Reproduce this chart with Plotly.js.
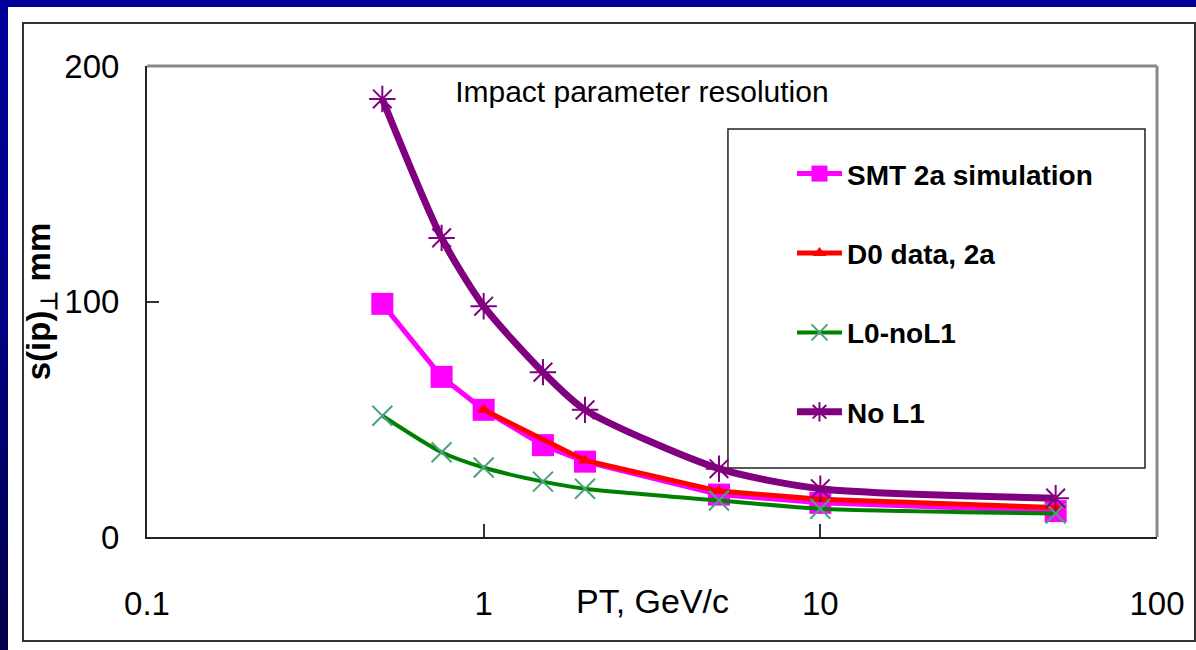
<!DOCTYPE html>
<html>
<head>
<meta charset="utf-8">
<script src="https://cdn.plot.ly/plotly-3.0.1.min.js"></script>
<style>
  html, body { margin:0; padding:0; width:1196px; height:650px; overflow:hidden; }
  body { background: linear-gradient(to bottom, #000099 0%, #000088 45%, #00004a 100%); position:relative; }
  #panel { position:absolute; left:8px; top:7px; width:1188px; height:643px; background:#ffffff; }
  #chart { position:absolute; left:0; top:0; width:1188px; height:643px; }
  #frame { position:absolute; left:14px; top:15px; width:1170px; height:616px; border:2px solid #333; pointer-events:none; }
</style>
</head>
<body>
<div id="panel">
  <div id="chart"></div>
  <div id="frame"></div>
</div>
<script>
// Transverse momentum values (GeV/c)
const ptAll = [0.5, 0.75, 1, 1.5, 2, 5, 10, 50];
const ptData = [1, 2, 5, 10, 50];

// Impact parameter resolution values
const smtSim   = [99, 68, 54, 39, 32, 18, 14.5, 11];
const d0Data   = [54, 32.5, 19.5, 16, 12.5];
const l0NoL1   = [51.5, 36, 29.5, 23.5, 20.5, 15.5, 12, 10];
const noL1     = [186, 127, 98, 70, 54, 29, 20.5, 16.5];

const seriesNames = ['SMT 2a simulation', 'D0 data, 2a', 'L0-noL1', 'No L1'];
const xTickVals = [0.1, 1, 10, 100];
const xTickText = ['0.1', '1', '10', '100'];
const yTickVals = [0, 100, 200];
const yTickText = ['0', '100', '200'];

const FONT = 'Liberation Sans, Arial, sans-serif';

const traces = [
  {
    x: ptAll, y: smtSim, name: seriesNames[0], type: 'scatter', mode: 'lines+markers',
    legendgroup: 'g1',
    line: { color: '#ff00ff', width: 5 },
    marker: { symbol: 'square', size: 22, color: '#ff00ff' }
  },
  {
    x: ptData, y: d0Data, name: seriesNames[1], type: 'scatter', mode: 'lines+markers',
    legendgroup: 'g2',
    line: { color: '#ff0000', width: 5 },
    marker: { symbol: 'triangle-up', size: 12, color: '#ff0000' }
  },
  {
    x: ptAll, y: l0NoL1, name: seriesNames[2], type: 'scatter', mode: 'lines+markers',
    legendgroup: 'g3',
    line: { color: '#008000', width: 4, shape: 'spline', smoothing: 0.7 },
    marker: { symbol: 'x-thin-open', size: 20, color: '#4aa37a', line: { color: '#4aa37a', width: 2 } }
  },
  {
    x: ptAll, y: noL1, name: seriesNames[3], type: 'scatter', mode: 'lines+markers',
    legendgroup: 'g4',
    line: { color: '#800080', width: 7, shape: 'spline', smoothing: 0.7 },
    marker: { symbol: 'asterisk-open', size: 22, color: '#800080', line: { color: '#800080', width: 2 } }
  }
];

const layout = {
  width: 1188, height: 643,
  margin: { l: 139, r: 39, t: 59, b: 113 },
  paper_bgcolor: '#ffffff', plot_bgcolor: '#ffffff',
  font: { family: FONT, color: '#000000' },
  showlegend: true,
  title: {
    text: 'Impact parameter resolution',
    font: { family: FONT, size: 30, color: '#000000' },
    xref: 'paper', x: 0.49, xanchor: 'center',
    yref: 'paper', y: 0.945, yanchor: 'middle'
  },
  xaxis: {
    type: 'log', range: [-1, 2],
    tickvals: xTickVals, ticktext: xTickText,
    ticks: 'inside', ticklen: 13, tickwidth: 2, tickcolor: '#333',
    showgrid: false, zeroline: false,
    showline: true, linecolor: '#222', linewidth: 2,
    tickfont: { family: FONT, size: 33, color: '#000' },
    ticklabelstandoff: 36,
    automargin: false
  },
  yaxis: {
    range: [0, 200],
    tickvals: yTickVals, ticktext: yTickText,
    ticks: 'inside', ticklen: 12, tickwidth: 2, tickcolor: '#333',
    showgrid: false, zeroline: false,
    showline: true, linecolor: '#222', linewidth: 2,
    tickfont: { family: FONT, size: 33, color: '#000' },
    ticklabelstandoff: 19,
    title: { text: 's(ip)<sub>⊥</sub> mm', font: { family: FONT, size: 33, weight: 'bold', color: '#000' }, standoff: 4 },
    automargin: false
  },
  legend: {
    x: 0.6386, y: 0.824, xanchor: 'left', yanchor: 'top',
    bgcolor: 'rgba(0,0,0,0)', borderwidth: 0,
    font: { family: FONT, size: 28, weight: 'bold', color: '#000' },
    itemwidth: 45,
    tracegroupgap: 40
  },
  annotations: [
    {
      text: 'PT, GeV/c', xref: 'paper', yref: 'paper', x: 0.5, y: -0.136,
      xanchor: 'center', yanchor: 'middle', showarrow: false,
      font: { family: FONT, size: 34, color: '#000' }
    }
  ],
  shapes: [
    { type: 'line', xref: 'paper', yref: 'paper', x0: 0, x1: 1, y0: 1, y1: 1, line: { color: '#888', width: 3 } },
    { type: 'line', xref: 'paper', yref: 'paper', x0: 1, x1: 1, y0: 0, y1: 1, line: { color: '#888', width: 3 } },
    { type: 'rect', xref: 'paper', yref: 'paper', x0: 0.5752, x1: 0.9881, y0: 0.1465, y1: 0.8662,
      line: { color: '#222', width: 1.5 }, fillcolor: 'rgba(0,0,0,0)', layer: 'below' }
  ]
};

Plotly.newPlot('chart', traces, layout, { displayModeBar: false, staticPlot: true });
</script>
</body>
</html>
